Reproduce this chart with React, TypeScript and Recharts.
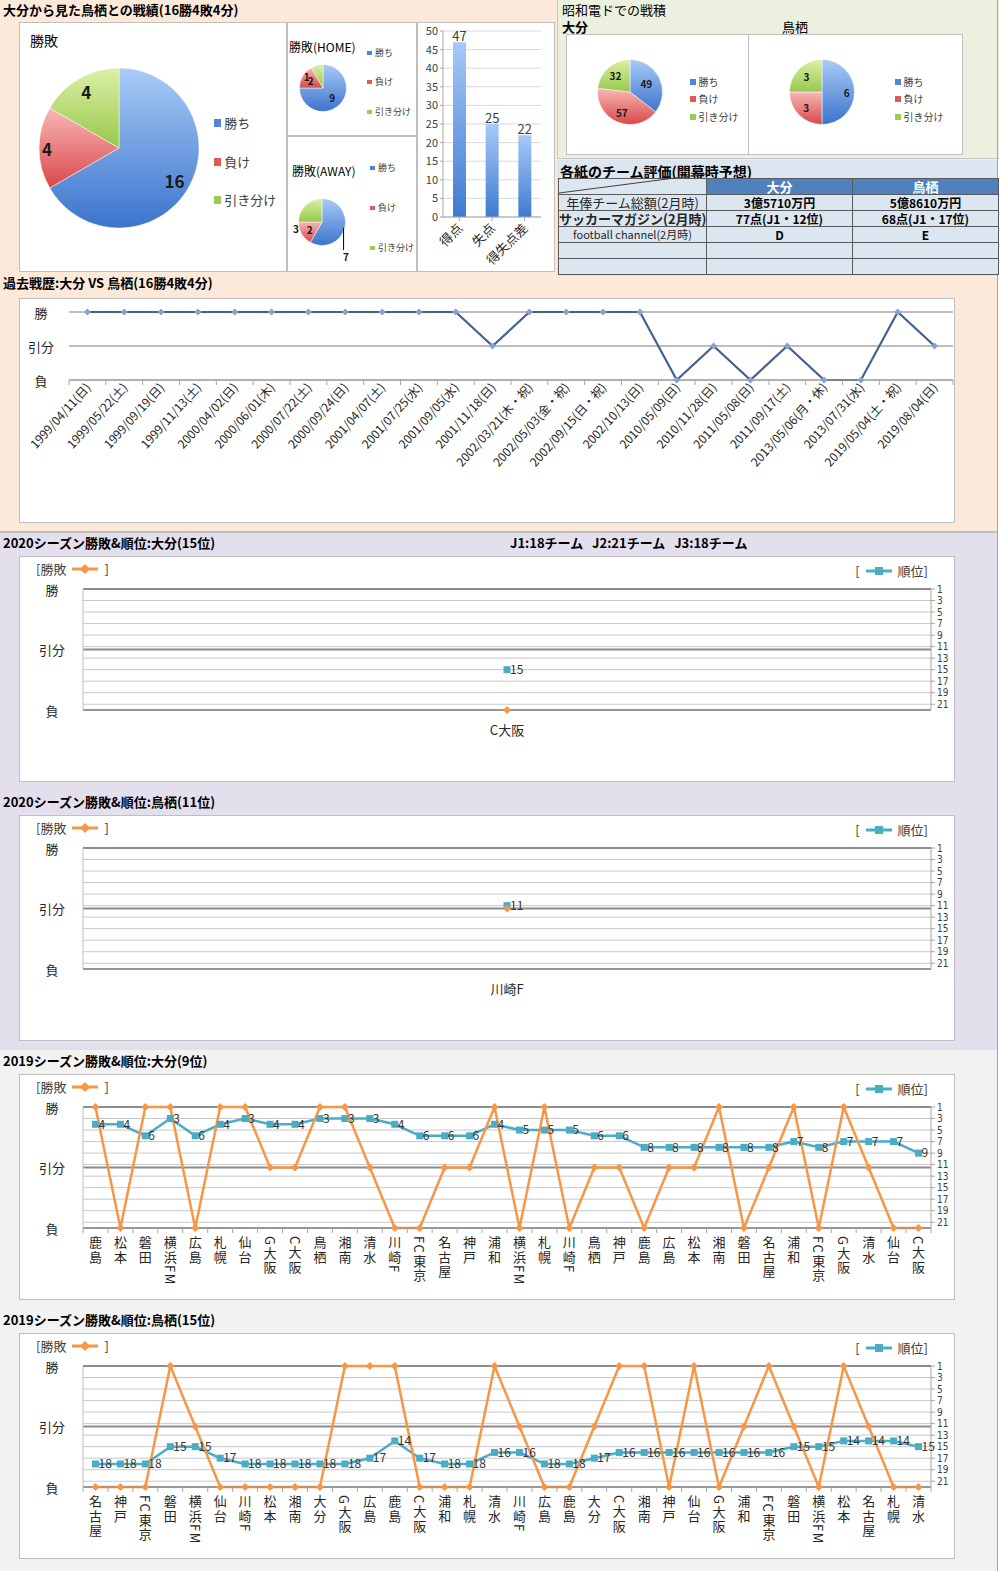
import {
  PieChart, Pie, Cell, BarChart, Bar, XAxis, YAxis, CartesianGrid,
  LabelList, LineChart, Line, ReferenceLine,
} from 'recharts'

const FONT = "'Noto Sans CJK JP', 'Noto Sans', sans-serif"
const NARROW = "'Liberation Sans Narrow', 'DejaVu Sans Condensed', 'Liberation Sans', sans-serif"
const RADIAN = Math.PI / 180

// ─── データ ──────────────────────────────────────────────────────────────────

const outcomeNames = ['勝ち', '負け', '引き分け']
const allMatches = [16, 4, 4]
const homeMatches = [9, 2, 1]
const awayMatches = [7, 2, 3]
const showaOita = [49, 57, 32]
const showaTosu = [6, 3, 3]

const goalNames = ['得点', '失点', '得失点差']
const goalValues = [47, 25, 22]
const goalTicks = [0, 5, 10, 15, 20, 25, 30, 35, 40, 45, 50]

const historyDates = [
  '1999/04/11(日)', '1999/05/22(土)', '1999/09/19(日)', '1999/11/13(土)',
  '2000/04/02(日)', '2000/06/01(木)', '2000/07/22(土)', '2000/09/24(日)',
  '2001/04/07(土)', '2001/07/25(水)', '2001/09/05(水)', '2001/11/18(日)',
  '2002/03/21(木・祝)', '2002/05/03(金・祝)', '2002/09/15(日・祝)', '2002/10/13(日)',
  '2010/05/09(日)', '2010/11/28(日)', '2011/05/08(日)', '2011/09/17(土)',
  '2013/05/06(月・休)', '2013/07/31(水)', '2019/05/04(土・祝)', '2019/08/04(日)',
]
const historyResults = [
  '勝', '勝', '勝', '勝', '勝', '勝', '勝', '勝', '勝', '勝', '勝', '分',
  '勝', '勝', '勝', '勝', '負', '分', '負', '分', '負', '負', '勝', '分',
]

const oita2020Opponents = ['C大阪']
const oita2020Results = ['負']
const oita2020Ranks = [15]

const tosu2020Opponents = ['川崎F']
const tosu2020Results = ['分']
const tosu2020Ranks = [11]

const oita2019Opponents = [
  '鹿島', '松本', '磐田', '横浜FM', '広島', '札幌', '仙台', 'G大阪', 'C大阪', '鳥栖', '湘南', '清水',
  '川崎F', 'FC東京', '名古屋', '神戸', '浦和', '横浜FM', '札幌', '川崎F', '鳥栖', '神戸', '鹿島',
  '広島', '松本', '湘南', '磐田', '名古屋', '浦和', 'FC東京', 'G大阪', '清水', '仙台', 'C大阪',
]
const oita2019Results = [
  '勝', '負', '勝', '勝', '負', '勝', '勝', '分', '分', '勝', '勝', '分', '負', '負', '分', '分', '勝',
  '負', '勝', '負', '分', '分', '負', '分', '分', '勝', '負', '分', '勝', '負', '勝', '分', '負', '負',
]
const oita2019Ranks = [
  4, 4, 6, 3, 6, 4, 3, 4, 4, 3, 3, 3, 4, 6, 6, 6, 4,
  5, 5, 5, 6, 6, 8, 8, 8, 8, 8, 8, 7, 8, 7, 7, 7, 9,
]

const tosu2019Opponents = [
  '名古屋', '神戸', 'FC東京', '磐田', '横浜FM', '仙台', '川崎F', '松本', '湘南', '大分', 'G大阪', '広島',
  '鹿島', 'C大阪', '浦和', '札幌', '清水', '川崎F', '広島', '鹿島', '大分', 'C大阪', '湘南', '神戸',
  '仙台', 'G大阪', '浦和', 'FC東京', '磐田', '横浜FM', '松本', '名古屋', '札幌', '清水',
]
const tosu2019Results = [
  '負', '負', '負', '勝', '分', '負', '負', '負', '負', '負', '勝', '勝', '勝', '負', '負', '負', '勝',
  '分', '負', '負', '分', '勝', '勝', '負', '勝', '負', '分', '勝', '分', '負', '勝', '分', '負', '負',
]
const tosu2019Ranks = [
  18, 18, 18, 15, 15, 17, 18, 18, 18, 18, 18, 17, 14, 17, 18, 18, 16,
  16, 18, 18, 17, 16, 16, 16, 16, 16, 16, 16, 15, 15, 14, 14, 14, 15,
]

const rankTicks = [1, 3, 5, 7, 9, 11, 13, 15, 17, 19, 21]
const resultTicks = [-1, 0, 1]
const RESULT_Y: Record<string, number> = { 勝: 1, 分: 0, 負: -1 }
const RESULT_LABEL: Record<number, string> = { 1: '勝', 0: '引分', [-1]: '負' }

const tableTeams = ['大分', '鳥栖']
const tableItems = ['年俸チーム総額(2月時)', 'サッカーマガジン(2月時)', 'football channel(2月時)', '', '']
const tableOita = ['3億5710万円', '77点(J1・12位)', 'D', '', '']
const tableTosu = ['5億8610万円', '68点(J1・17位)', 'E', '', '']

// ─── 色 ──────────────────────────────────────────────────────────────────────

const LEGEND_COLORS = ['#4f86d9', '#e05a5a', '#9ccc55']
const GRAD_STOPS = [['#a9cbf7', '#3b74cc'], ['#f8b7b7', '#d94848'], ['#dcf0a6', '#97c84a']]
const ORANGE = '#f79646'
const TEAL = '#4bacc6'
const NO_MARGIN = { top: 0, right: 0, left: 0, bottom: 0 }

// ─── 共通パーツ ──────────────────────────────────────────────────────────────

function Box({ left, top, width, height, bg = '#fff', children }: any) {
  return (
    <div style={{
      position: 'absolute', left, top, width, height, background: bg,
      border: '1px solid #bfbfbf', boxSizing: 'border-box',
    }}>{children}</div>
  )
}

function Text({ left, top, size = 13, bold = false, children, color = '#000' }: any) {
  return (
    <div style={{
      position: 'absolute', left, top: top - 9, lineHeight: '18px', fontSize: size,
      fontWeight: bold ? 700 : 400, color, whiteSpace: 'pre',
    }}>{children}</div>
  )
}

function PieLegend({ left, centers, size }: { left: number; centers: number[]; size: number }) {
  return (
    <>
      {outcomeNames.map((n, i) => (
        <div key={n} style={{
          position: 'absolute', left, top: centers[i] - 9, lineHeight: '18px',
          fontSize: size, color: '#404040', display: 'flex', alignItems: 'center', whiteSpace: 'nowrap',
        }}>
          <span style={{ width: size * 0.55, height: size * 0.55, background: LEGEND_COLORS[i], marginRight: 3 }} />
          {n}
        </div>
      ))}
    </>
  )
}

// ─── 円グラフ ────────────────────────────────────────────────────────────────

interface LabelSpec { f: number; angle?: number; leader?: boolean }

function RecordPie({ id, values, w, h, cx, cy, r, size, labels }: {
  id: string; values: number[]; w: number; h: number; cx: number; cy: number; r: number
  size: number; labels: LabelSpec[]
}) {
  const data = values.map((v, i) => ({ name: outcomeNames[i], value: v }))
  const renderLabel = (p: any) => {
    const spec = labels[p.index]
    const ang = spec.angle ?? p.midAngle
    const d = p.outerRadius * spec.f
    const x = p.cx + d * Math.cos(-ang * RADIAN)
    const y = p.cy + d * Math.sin(-ang * RADIAN)
    const t = (
      <text key={`t${p.index}`} x={x} y={y} textAnchor="middle" dominantBaseline="central"
        fontSize={size} fontWeight={700} fill="#1a1a1a">{p.value}</text>
    )
    if (!spec.leader) return t
    const lx = p.cx + p.outerRadius * 0.95 * Math.cos(-p.midAngle * RADIAN)
    const ly = p.cy + p.outerRadius * 0.95 * Math.sin(-p.midAngle * RADIAN)
    return (
      <g key={`g${p.index}`}>
        <line x1={lx} y1={ly} x2={lx} y2={y - 6} stroke="#000" strokeWidth={1} />
        {t}
      </g>
    )
  }
  return (
    <PieChart width={w} height={h} margin={NO_MARGIN} style={{ position: 'absolute', left: -1, top: -1 }}>
      <defs>
        {GRAD_STOPS.map((s, i) => (
          <linearGradient key={i} id={`${id}-${i}`} x1="0" y1="0" x2="0" y2="1">
            <stop offset="0%" stopColor={s[0]} />
            <stop offset="100%" stopColor={s[1]} />
          </linearGradient>
        ))}
      </defs>
      <Pie data={data} dataKey="value" cx={cx} cy={cy} outerRadius={r} startAngle={90} endAngle={-270}
        isAnimationActive={false} label={renderLabel} labelLine={false} stroke="#ffffff" strokeWidth={0.5}>
        {data.map((d, i) => <Cell key={d.name} fill={`url(#${id}-${i})`} />)}
      </Pie>
    </PieChart>
  )
}

// ─── 棒グラフ: 得点/失点 ─────────────────────────────────────────────────────

function GoalTick({ x, y, payload }: any) {
  return (
    <text x={x + 4} y={y + 8} textAnchor="end" fontSize={13} fill="#262626"
      transform={`rotate(-45 ${x + 4} ${y + 8})`}>{payload.value}</text>
  )
}

function GoalBars() {
  const data = goalNames.map((n, i) => ({ name: n, value: goalValues[i] }))
  return (
    <BarChart width={138} height={250} data={data} margin={{ top: 9, right: 14, left: 0, bottom: 0 }} barSize={13}>
      <defs>
        <linearGradient id="goalGrad" x1="0" y1="0" x2="0" y2="1">
          <stop offset="0%" stopColor="#a6c9f6" />
          <stop offset="100%" stopColor="#3f7bd2" />
        </linearGradient>
      </defs>
      <CartesianGrid vertical={false} stroke="#d9d9d9" />
      <XAxis dataKey="name" height={55} interval={0} tick={<GoalTick />} axisLine={{ stroke: '#a6a6a6' }}
        tickLine={{ stroke: '#a6a6a6' }} tickSize={4} tickMargin={0} />
      <YAxis width={26} domain={[0, 50]} ticks={goalTicks} interval={0} tick={{ fontSize: 11, fill: '#404040' }}
        axisLine={{ stroke: '#a6a6a6' }} tickLine={{ stroke: '#a6a6a6' }} tickSize={3} />
      <Bar dataKey="value" fill="url(#goalGrad)" isAnimationActive={false}>
        <LabelList dataKey="value" position="top" offset={1} fontSize={13} fill="#404040" />
      </Bar>
    </BarChart>
  )
}

// ─── 折れ線: 過去戦歴 ────────────────────────────────────────────────────────

const HIST_BAND = 884 / historyDates.length

function HistoryTick({ x, y, payload, index }: any) {
  const h = HIST_BAND / 2
  return (
    <g>
      <line x1={x + h} y1={y} x2={x + h} y2={y + 5} stroke="#a6a6a6" />
      {index === 0 && <line x1={x - h} y1={y} x2={x - h} y2={y + 5} stroke="#a6a6a6" />}
      <text x={0} y={0} textAnchor="end" fontSize={12} fill="#262626"
        transform={`translate(${x + 4} ${y + 8}) rotate(-48)`}>{payload.value}</text>
    </g>
  )
}

function ResultTick({ y, payload, at }: any) {
  return (
    <text x={at} y={y} textAnchor="middle" dominantBaseline="central" fontSize={13} fill="#262626">
      {RESULT_LABEL[payload.value]}
    </text>
  )
}

function SmallDiamond(p: any) {
  if (p.cx == null) return null
  const s = 3.5
  return <path key={p.key} d={`M${p.cx} ${p.cy - s}L${p.cx + s} ${p.cy}L${p.cx} ${p.cy + s}L${p.cx - s} ${p.cy}Z`} fill="#86a3cf" />
}

function HistoryChart() {
  const data = historyDates.map((d, i) => ({ date: d, res: RESULT_Y[historyResults[i]] }))
  return (
    <LineChart width={936} height={225} data={data} margin={{ top: 14, right: 2, left: 0, bottom: 0 }}>
      <CartesianGrid vertical={false} stroke="#bdbdbd" strokeWidth={2} />
      <XAxis dataKey="date" height={143} interval={0} tick={<HistoryTick />} tickLine={false}
        tickSize={0} tickMargin={0} axisLine={{ stroke: '#a6a6a6' }}
        padding={{ left: HIST_BAND / 2, right: HIST_BAND / 2 }} />
      <YAxis width={50} domain={[-1, 1]} ticks={resultTicks} interval={0} axisLine={false} tickLine={false}
        tick={<ResultTick at={22} />} />
      <Line dataKey="res" stroke="#41628f" strokeWidth={2.2} dot={SmallDiamond} isAnimationActive={false} />
    </LineChart>
  )
}

// ─── 勝敗&順位 チャート ──────────────────────────────────────────────────────

function OrangeDiamond(p: any) {
  if (p.cx == null) return null
  const s = 4
  return <path key={p.key} d={`M${p.cx} ${p.cy - s}L${p.cx + s} ${p.cy}L${p.cx} ${p.cy + s}L${p.cx - s} ${p.cy}Z`} fill={ORANGE} />
}

function TealSquare(p: any) {
  if (p.cx == null) return null
  return <rect key={p.key} x={p.cx - 3.5} y={p.cy - 3.5} width={7} height={7} fill={TEAL} />
}

function SeasonTick({ x, y, payload, index, band, vertical }: any) {
  const h = band / 2
  if (!vertical) {
    return <text x={x} y={y + 19} textAnchor="middle" dominantBaseline="central" fontSize={13} fill="#262626">{payload.value}</text>
  }
  return (
    <g>
      <line x1={x + h} y1={y} x2={x + h} y2={y + 5} stroke="#a6a6a6" />
      {index === 0 && <line x1={x - h} y1={y} x2={x - h} y2={y + 5} stroke="#a6a6a6" />}
      <text x={x} y={y + 8} textAnchor="start" fontSize={13} fill="#262626"
        style={{ writingMode: 'vertical-rl' as any, letterSpacing: 1.5 }}>{payload.value}</text>
    </g>
  )
}

function LegendMark({ color, square }: { color: string; square?: boolean }) {
  return (
    <svg width={26} height={10} style={{ margin: '0 6px' }}>
      <line x1={0} y1={5} x2={26} y2={5} stroke={color} strokeWidth={3} />
      {square
        ? <rect x={9} y={1} width={8} height={8} fill={color} />
        : <path d="M13 0L18 5L13 10L8 5Z" fill={color} />}
    </svg>
  )
}

function SeasonChart({ top, title, note, opponents, results, ranks }: {
  top: number; title: string; note?: string; opponents: string[]; results: string[]; ranks: number[]
}) {
  const data = opponents.map((o, i) => ({ team: o, res: RESULT_Y[results[i]], rank: ranks[i] }))
  const band = 848 / opponents.length
  const vertical = opponents.length > 1
  const pad = vertical ? { left: band / 2, right: band / 2 } : { left: 0, right: 0 }
  const legendStyle = {
    position: 'absolute' as const, lineHeight: '18px', fontSize: 13, color: '#404040',
    display: 'flex', alignItems: 'center',
  }
  return (
    <>
      <Text left={3} top={top - 13} bold>{title}</Text>
      {note && <Text left={510} top={top - 13} bold>{note}</Text>}
      <Box left={19} top={top} width={936} height={226}>
        <div style={{ ...legendStyle, left: 16, top: 3 }}>[勝敗<LegendMark color={ORANGE} />]</div>
        <div style={{ ...legendStyle, right: 26, top: 5 }}>[<LegendMark color={TEAL} square />順位]</div>
        <LineChart width={936} height={226} data={data} margin={{ top: 33, right: 0, left: 14, bottom: 0 }}
          style={{ position: 'absolute', left: -1, top: -1 }}>
          <CartesianGrid yAxisId="rank" vertical={false} stroke="#c8c8c8" />
          <XAxis dataKey="team" height={72} interval={0} tickLine={false} tickSize={0} tickMargin={0}
            axisLine={{ stroke: '#8c8c8c' }} padding={pad} tick={<SeasonTick band={band} vertical={vertical} />} />
          <YAxis yAxisId="res" width={50} domain={[-1, 1]} ticks={resultTicks} interval={0}
            axisLine={{ stroke: '#bfbfbf' }} tickLine={false} tick={<ResultTick at={33} />} />
          <YAxis yAxisId="rank" orientation="right" reversed width={24} domain={[1, 22]} ticks={rankTicks}
            interval={0} tick={{ fontSize: 10, fill: '#404040', fontFamily: NARROW }} tickSize={4} tickMargin={2}
            axisLine={{ stroke: '#a6a6a6' }} tickLine={{ stroke: '#a6a6a6' }} />
          <ReferenceLine yAxisId="res" y={1} stroke="#8c8c8c" strokeWidth={2} />
          <ReferenceLine yAxisId="res" y={0} stroke="#8c8c8c" strokeWidth={2} />
          <ReferenceLine yAxisId="res" y={-1} stroke="#8c8c8c" strokeWidth={1.5} />
          <Line yAxisId="rank" dataKey="rank" stroke={TEAL} strokeWidth={2.5} dot={TealSquare} isAnimationActive={false}>
            <LabelList dataKey="rank" position="right" offset={3} fontSize={12} fill="#333" />
          </Line>
          <Line yAxisId="res" dataKey="res" stroke={ORANGE} strokeWidth={2.5} dot={OrangeDiamond} isAnimationActive={false} />
        </LineChart>
      </Box>
    </>
  )
}

// ─── 表 ──────────────────────────────────────────────────────────────────────

function EvalTable() {
  const cell = (bold: boolean, extra: any = {}) => ({
    border: '1px solid #5a5a5a', padding: 0, height: 15, fontSize: 12, fontWeight: bold ? 700 : 400,
    textAlign: 'center' as const, lineHeight: '15px', whiteSpace: 'nowrap' as const, ...extra,
  })
  return (
    <>
      <table style={{
        position: 'absolute', left: 558, top: 178, width: 440, borderCollapse: 'collapse',
        tableLayout: 'fixed', background: '#dce6f1', fontFamily: FONT,
      }}>
        <colgroup><col style={{ width: 148 }} /><col style={{ width: 146 }} /><col style={{ width: 146 }} /></colgroup>
        <tbody>
          <tr>
            <td style={cell(false)} />
            {tableTeams.map((t) => (
              <td key={t} style={cell(true, { background: '#4f81bd', color: '#fff', fontSize: 13 })}>{t}</td>
            ))}
          </tr>
          {tableItems.map((it, i) => (
            <tr key={i}>
              <td style={cell(i === 1, { fontSize: i === 2 ? 11 : 13, color: '#262626' })}>{it}</td>
              <td style={cell(true)}>{tableOita[i]}</td>
              <td style={cell(true)}>{tableTosu[i]}</td>
            </tr>
          ))}
        </tbody>
      </table>
      <svg width={160} height={30} style={{ position: 'absolute', left: 556, top: 168 }}>
        <line x1={3} y1={25} x2={150} y2={6} stroke="#404040" strokeWidth={1} />
      </svg>
    </>
  )
}

// ─── ページ ──────────────────────────────────────────────────────────────────

export default function App() {
  return (
    <div style={{ position: 'absolute', left: 0, top: 0, width: 1000, height: 1571, fontFamily: FONT, overflow: 'hidden', background: '#fff' }}>
      {/* 背景 */}
      <div style={{ position: 'absolute', left: 0, top: 0, width: 998, height: 531, background: '#fde9d9' }} />
      <div style={{ position: 'absolute', left: 557, top: 0, width: 441, height: 158, background: '#ebf1de', borderLeft: '1px solid #c8c8c8', borderBottom: '1px solid #c8c8c8' }} />
      <div style={{ position: 'absolute', left: 557, top: 160, width: 441, height: 116, background: '#dce6f1' }} />
      <div style={{ position: 'absolute', left: 0, top: 531, width: 998, height: 2, background: '#bfbfbf' }} />
      <div style={{ position: 'absolute', left: 0, top: 533, width: 998, height: 517, background: '#e4dfec' }} />
      <div style={{ position: 'absolute', left: 0, top: 1050, width: 998, height: 521, background: '#f2f2f2' }} />
      <div style={{ position: 'absolute', left: 997, top: 0, width: 1, height: 1571, background: '#a6a6a6' }} />

      {/* 大分から見た鳥栖との戦績 */}
      <Text left={3} top={10} bold>大分から見た鳥栖との戦績(16勝4敗4分)</Text>

      <Box left={19} top={22} width={268} height={250}>
        <RecordPie id="all" values={allMatches} w={268} h={250} cx={100} cy={126} r={80} size={17}
          labels={[{ f: 0.8 }, { f: 0.9 }, { f: 0.82 }]} />
      </Box>
      <Text left={30} top={40} size={14}>勝敗</Text>
      <PieLegend left={214} centers={[123, 162, 200]} size={13} />

      <Box left={287} top={22} width={130} height={114}>
        <RecordPie id="home" values={homeMatches} w={130} h={114} cx={36} cy={66} r={23.5} size={10}
          labels={[{ f: 0.55 }, { f: 0.6 }, { f: 0.85, angle: -215 }]} />
      </Box>
      <Text left={289} top={47} size={12}>勝敗(HOME)</Text>
      <PieLegend left={367} centers={[53, 82, 112]} size={9} />

      <Box left={287} top={136} width={130} height={136}>
        <RecordPie id="away" values={awayMatches} w={130} h={136} cx={35} cy={86} r={23.5} size={10}
          labels={[{ f: 1.77, angle: -55, leader: true }, { f: 0.61 }, { f: 1.14, angle: -167 }]} />
      </Box>
      <Text left={292} top={171} size={12}>勝敗(AWAY)</Text>
      <PieLegend left={370} centers={[168, 208, 248]} size={9} />

      <Box left={417} top={22} width={138} height={250}>
        <div style={{ position: 'absolute', left: -1, top: -1 }}><GoalBars /></div>
      </Box>

      {/* 昭和電ドでの戦積 */}
      <Text left={562} top={10} size={13}>昭和電ドでの戦積</Text>
      <Text left={562} top={27} size={13} bold>大分</Text>
      <Text left={782} top={27} size={13}>鳥栖</Text>
      <Box left={566} top={34} width={183} height={121}>
        <RecordPie id="showaO" values={showaOita} w={183} h={121} cx={64} cy={58} r={32.5} size={10}
          labels={[{ f: 0.56 }, { f: 0.67 }, { f: 0.67 }]} />
      </Box>
      <PieLegend left={690} centers={[82, 99, 117]} size={10} />
      <Box left={748} top={34} width={215} height={121}>
        <RecordPie id="showaT" values={showaTosu} w={215} h={121} cx={74} cy={58} r={32.5} size={10}
          labels={[{ f: 0.76 }, { f: 0.69 }, { f: 0.68 }]} />
      </Box>
      <PieLegend left={895} centers={[82, 99, 117]} size={10} />

      {/* 各紙のチーム評価 */}
      <Text left={560} top={171} size={14} bold>各紙のチーム評価(開幕時予想)</Text>
      <EvalTable />

      {/* 過去戦歴 */}
      <Text left={3} top={283} bold>過去戦歴:大分 VS 鳥栖(16勝4敗4分)</Text>
      <Box left={19} top={298} width={936} height={225}>
        <div style={{ position: 'absolute', left: -1, top: -1 }}><HistoryChart /></div>
      </Box>

      {/* 2020 / 2019 シーズン */}
      <SeasonChart top={556} title="2020シーズン勝敗&順位:大分(15位)" note="J1:18チーム   J2:21チーム   J3:18チーム"
        opponents={oita2020Opponents} results={oita2020Results} ranks={oita2020Ranks} />
      <SeasonChart top={815} title="2020シーズン勝敗&順位:鳥栖(11位)"
        opponents={tosu2020Opponents} results={tosu2020Results} ranks={tosu2020Ranks} />
      <SeasonChart top={1074} title="2019シーズン勝敗&順位:大分(9位)"
        opponents={oita2019Opponents} results={oita2019Results} ranks={oita2019Ranks} />
      <SeasonChart top={1333} title="2019シーズン勝敗&順位:鳥栖(15位)"
        opponents={tosu2019Opponents} results={tosu2019Results} ranks={tosu2019Ranks} />
    </div>
  )
}
